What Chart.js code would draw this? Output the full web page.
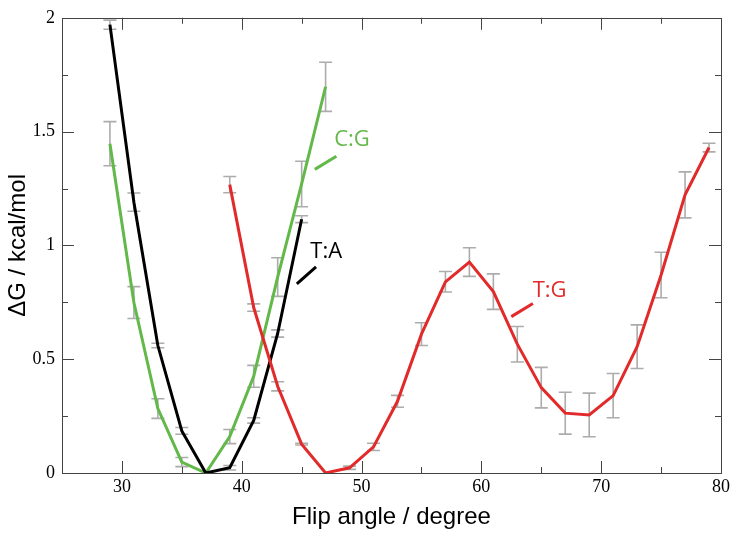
<!DOCTYPE html>
<html>
<head>
<meta charset="utf-8">
<script src="https://cdn.jsdelivr.net/npm/chart.js@4.4.1/dist/chart.umd.min.js"></script>
<style>
  html, body { margin: 0; padding: 0; background: #fff; }
  #wrap { width: 735px; height: 539px; }
</style>
</head>
<body>
<div id="wrap"><canvas id="flipChart"></canvas></div>
<script>
// T:A
const taX = [29, 31, 33, 35, 37, 39, 41, 43, 45];
const taY = [1.97, 1.19, 0.56, 0.185, 0, 0.023, 0.231, 0.613, 1.115];
const taErr = [0.02, 0.04, 0.01, 0.015, 0, 0.01, 0.012, 0.016, 0.015];

// C:G
const cgX = [29, 31, 33, 35, 37, 39, 41, 43, 45, 47];
const cgY = [1.447, 0.749, 0.283, 0.048, 0, 0.16, 0.425, 0.861, 1.27, 1.697];
const cgErr = [0.097, 0.07, 0.043, 0.02, 0, 0.031, 0.048, 0.085, 0.1, 0.108];

// T:G
const tgX = [39, 41, 43, 45, 47, 49, 51, 53, 55, 57, 59, 61, 63, 65, 67, 69, 71, 73, 75, 77, 79];
const tgY = [1.267, 0.727, 0.381, 0.127, 0, 0.023, 0.115, 0.315, 0.61, 0.84, 0.927, 0.797,
             0.566, 0.375, 0.263, 0.255, 0.34, 0.555, 0.87, 1.222, 1.43];
const tgErr = [0.036, 0.016, 0.02, 0.004, 0, 0.007, 0.016, 0.026, 0.05, 0.045, 0.063, 0.078,
               0.078, 0.089, 0.092, 0.096, 0.097, 0.096, 0.1, 0.101, 0.019];

const xTicks = [30, 40, 50, 60, 70, 80];
const yTicks = [0, 0.5, 1, 1.5, 2];

const GREEN = 'rgb(98, 184, 72)';
const RED = 'rgb(226, 42, 42)';
const BLACK = '#000';

const toPoints = (xs, ys) => xs.map((x, i) => ({ x: x, y: ys[i] }));

// labels with their little leader lines (data coords)
const notes = [
  { text: 'C:G', color: GREEN, at: [49.2, 1.465], line: [46.1, 1.334, 47.9, 1.392] },
  { text: 'T:A', color: BLACK, at: [47.05, 0.971], line: [44.6, 0.831, 46.2, 0.906] },
  { text: 'T:G', color: RED, at: [65.7, 0.803], line: [62.5, 0.687, 64.3, 0.745] },
];

// error bars under the lines
const errorBars = {
  id: 'errorBars',
  beforeDatasetsDraw(chart) {
    const ctx = chart.ctx;
    const xs = chart.scales.x, ys = chart.scales.y;
    ctx.save();
    ctx.strokeStyle = 'rgb(172, 172, 172)';
    ctx.lineWidth = 1.6;
    chart.data.datasets.forEach(ds => {
      ds.data.forEach((p, i) => {
        const e = ds.errors[i];
        if (!e) return;
        const px = xs.getPixelForValue(p.x);
        const top = ys.getPixelForValue(p.y + e);
        const bot = ys.getPixelForValue(p.y - e);
        ctx.beginPath();
        ctx.moveTo(px, top); ctx.lineTo(px, bot);
        ctx.moveTo(px - 6.5, top); ctx.lineTo(px + 6.5, top);
        ctx.moveTo(px - 6.5, bot); ctx.lineTo(px + 6.5, bot);
        ctx.stroke();
      });
    });
    ctx.restore();
  }
};

// box frame + inward ticks on all four sides
const frame = {
  id: 'frame',
  afterDraw(chart) {
    const ctx = chart.ctx;
    const a = chart.chartArea;
    const xs = chart.scales.x, ys = chart.scales.y;
    ctx.save();
    ctx.strokeStyle = '#444';
    ctx.lineWidth = 1;
    ctx.strokeRect(Math.round(a.left) + 0.5, Math.round(a.top) + 0.5,
                   Math.round(a.right - a.left), Math.round(a.bottom - a.top));
    ctx.beginPath();
    for (let v = 30; v < 80; v += 5) {
      const len = v % 10 === 0 ? 12 : 6;
      const px = Math.round(xs.getPixelForValue(v)) + 0.5;
      ctx.moveTo(px, a.bottom); ctx.lineTo(px, a.bottom - len);
      ctx.moveTo(px, a.top); ctx.lineTo(px, a.top + len);
    }
    for (let v = 0.25; v < 2; v += 0.25) {
      const len = Math.abs(v * 2 - Math.round(v * 2)) < 1e-6 ? 12 : 6;
      const py = Math.round(ys.getPixelForValue(v)) + 0.5;
      ctx.moveTo(a.left, py); ctx.lineTo(a.left + len, py);
      ctx.moveTo(a.right, py); ctx.lineTo(a.right - len, py);
    }
    ctx.stroke();
    ctx.restore();

    // annotations
    ctx.save();
    ctx.font = '22px "Open Sans"';
    ctx.textAlign = 'center';
    ctx.textBaseline = 'middle';
    notes.forEach(n => {
      ctx.fillStyle = n.color;
      ctx.fillText(n.text, xs.getPixelForValue(n.at[0]), ys.getPixelForValue(n.at[1]));
      ctx.strokeStyle = n.color;
      ctx.lineWidth = 3;
      ctx.beginPath();
      ctx.moveTo(xs.getPixelForValue(n.line[0]), ys.getPixelForValue(n.line[1]));
      ctx.lineTo(xs.getPixelForValue(n.line[2]), ys.getPixelForValue(n.line[3]));
      ctx.stroke();
    });
    ctx.restore();
  }
};

const tickFont = { family: '"Liberation Serif", "DejaVu Serif", serif', size: 18 };
const titleFont = { family: '"Liberation Sans", Arial, sans-serif', size: 24 };

new Chart(document.getElementById('flipChart').getContext('2d'), {
  type: 'line',
  data: {
    datasets: [{
      label: 'T:G',
      data: toPoints(tgX, tgY),
      errors: tgErr,
      borderColor: RED,
    }, {
      label: 'T:A',
      data: toPoints(taX, taY),
      errors: taErr,
      borderColor: BLACK,
    }, {
      label: 'C:G',
      data: toPoints(cgX, cgY),
      errors: cgErr,
      borderColor: GREEN,
    }]
  },
  options: {
    responsive: true,
    maintainAspectRatio: false,
    animation: false,
    layout: { padding: { left: 0, right: 14, top: 11, bottom: 0 } },
    elements: {
      line: { borderWidth: 3, tension: 0, fill: false },
      point: { radius: 0, hoverRadius: 0 }
    },
    plugins: {
      legend: { display: false },
      tooltip: { enabled: false }
    },
    scales: {
      x: {
        type: 'linear',
        min: 25,
        max: 80,
        afterBuildTicks: s => { s.ticks = xTicks.map(v => ({ value: v })); },
        afterFit: s => { s.height = 66; },
        grid: { display: false, drawTicks: false },
        border: { display: false },
        ticks: { font: tickFont, color: '#000', padding: 3, maxRotation: 0, callback: v => String(v) },
        title: {
          display: true,
          text: 'Flip angle / degree',
          font: titleFont,
          color: '#000',
          padding: { top: 4, bottom: 7 }
        }
      },
      y: {
        type: 'linear',
        min: 0,
        max: 2,
        afterBuildTicks: s => { s.ticks = yTicks.map(v => ({ value: v })); },
        afterFit: s => { s.width = 62; },
        grid: { display: false, drawTicks: false },
        border: { display: false },
        ticks: { font: tickFont, color: '#000', padding: 7, callback: v => String(v) },
        title: {
          display: true,
          text: 'ΔG / kcal/mol',
          font: titleFont,
          color: '#000',
          padding: { top: 4, bottom: 4 }
        }
      }
    }
  },
  plugins: [errorBars, frame]
});
</script>
</body>
</html>
